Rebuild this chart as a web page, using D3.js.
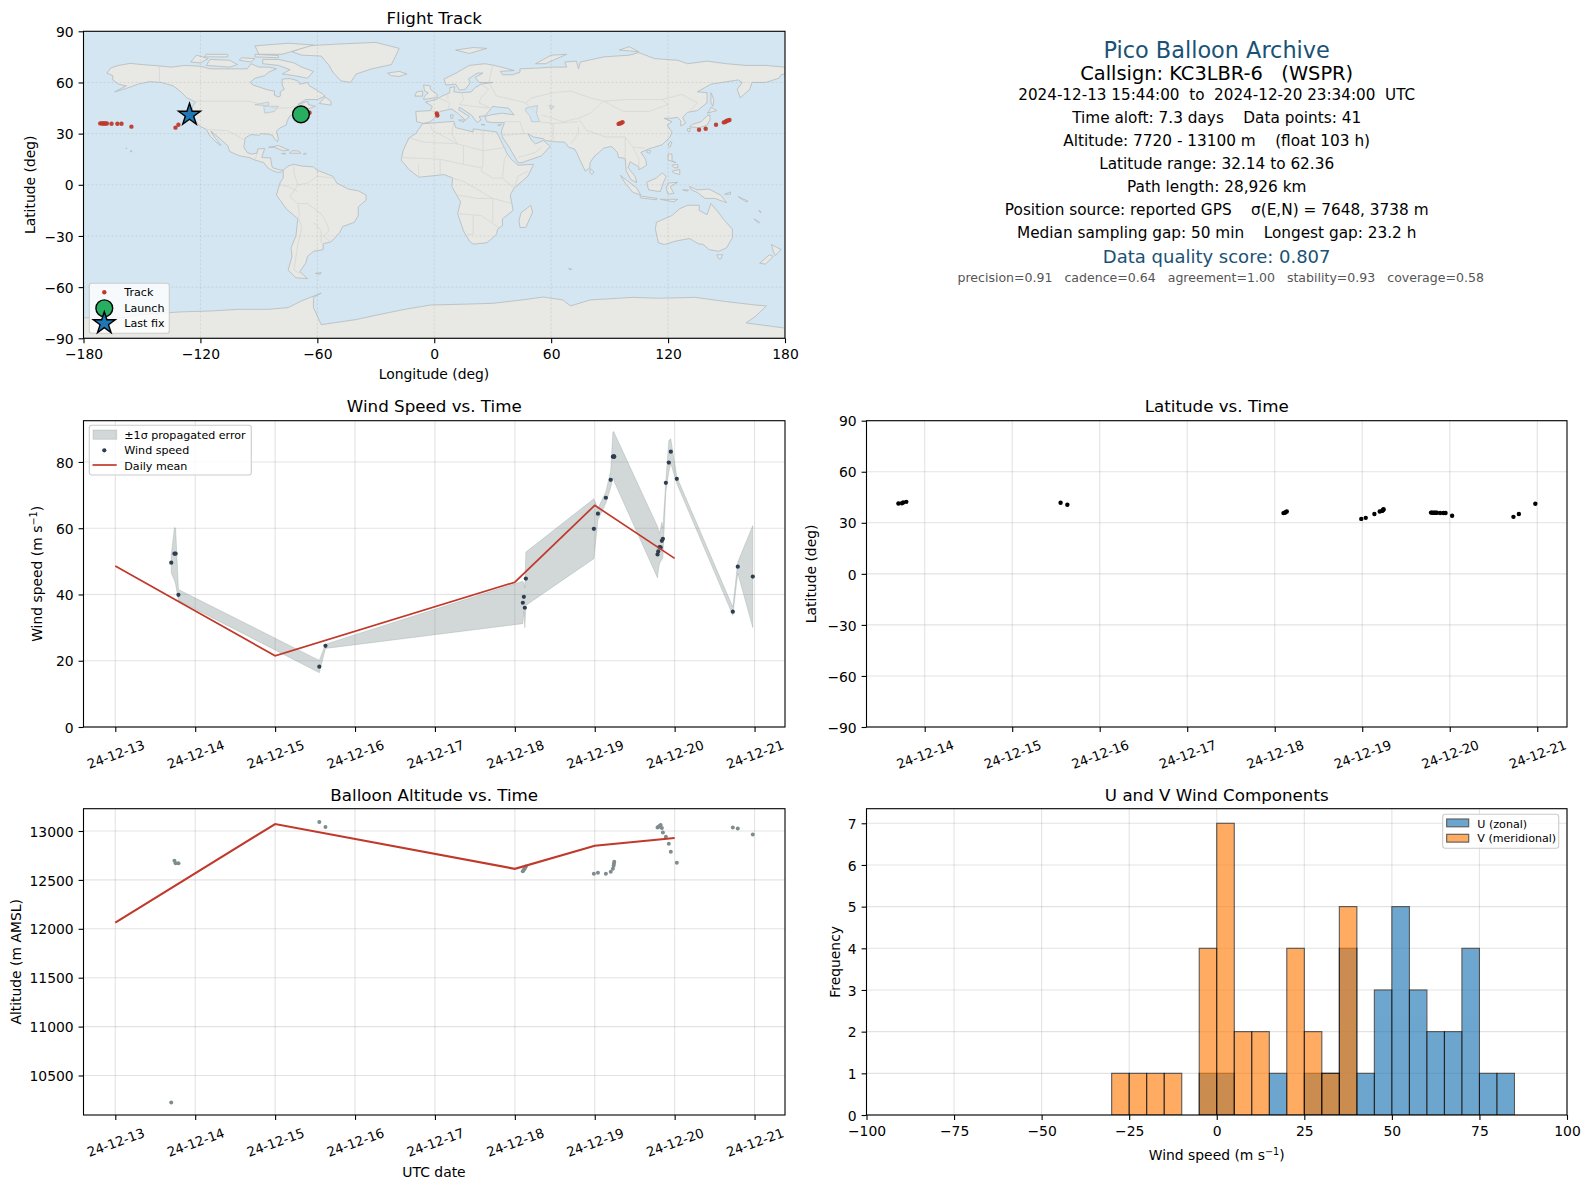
<!DOCTYPE html>
<html>
<head>
<meta charset="utf-8">
<script src="https://cdn.jsdelivr.net/npm/d3@7"></script>
<style>
  body { margin: 0; background: #fff; }
  svg { display: block; }
  text { font-family: "DejaVu Sans", sans-serif; fill: #000; }
</style>
</head>
<body>
<script>
// Flight samples, all arrays line up. Day = day of December 2024 (UTC)
const days = [13.70, 13.74, 13.755, 13.79, 15.553, 15.63, 18.10, 18.113, 18.125, 18.138,
  18.989, 19.04, 19.139, 19.20, 19.227, 19.236, 19.24, 19.244,
  19.786, 19.795, 19.81, 19.825, 19.84, 19.853, 19.89, 19.927, 19.952, 20.027,
  20.728, 20.79, 20.978];
const windSpeed = [49.6, 52.3, 52.3, 39.9, 18.2, 24.5, 37.5, 39.3, 36.0, 44.8,
  59.8, 64.4, 69.2, 74.6, 81.6, 81.6, 81.7, 81.6,
  52.1, 53.0, 54.3, 54.2, 56.2, 56.8, 73.7, 79.8, 83.1, 74.9,
  34.8, 48.4, 45.4];
const windUpper = [52, 60.2, 60, 41.5, 20.1, 25, 44, 43.5, 42, 52.8,
  68.9, 66, 71, 77.4, 89, 89.2, 89, 88.8,
  60.5, 59.5, 58.5, 60, 61.8, 60, 74.5, 86.5, 87, 75.5,
  36.2, 49.8, 60.8];
const windLower = [46.5, 44.3, 43, 38.2, 16.4, 23.7, 31.2, 35, 30, 36.7,
  50.8, 62.5, 67.5, 72.4, 75, 75, 74.5, 74,
  45, 47, 49.3, 50, 50.5, 51.3, 71, 77, 79.5, 73.5,
  33.7, 46.4, 30];
const altitude = [10225, 12695, 12670, 12670, 13091, 13040, 12589, 12603, 12617, 12637,
  12562, 12572, 12562, 12583, 12613, 12644, 12665, 12686,
  13035, 13042, 13050, 13062, 13030, 12984, 12942, 12870, 12788, 12675,
  13035, 13025, 12963];
const latitude = [41.3, 41.5, 42, 42.3, 41.8, 40.6, 35.7, 35.9, 36.2, 36.7,
  32.3, 32.9, 35.2, 36.6, 37, 37.4, 37.7, 38,
  36, 36, 35.9, 35.9, 35.9, 35.9, 35.8, 35.8, 35.8, 34.1,
  33.5, 35.2, 41.2];
const longitude = [-66.5, -65.5, -64.8, -64, 1.3, 1.6, 94.6, 95.2, 95.9, 96.6,
  135.9, 139.3, 144.6, 148.6, 149.5, 150, 150.7, 151.5,
  -171.4, -170.6, -170, -169.4, -168.8, -168, -165.6, -162.6, -160.5, -155.4,
  -132.8, -131.3, -125.6];

// Daily means
const meanDays = [13, 15, 18, 19, 20];
const meanWind = [48.6, 21.5, 43.7, 66.9, 50.9];
const meanAltitude = [12062, 13071, 12613, 12850, 12928];

const launchPoint = [-68.4, 41.3];
const lastPoint = [-125.6, 41.0];

// Histogram counts, bins 5 m/s wide from -100 to 100
const binEdges = d3.range(-100, 100, 5);
const uCounts = [0,0,0,0,0,0,0,0,0,0,0,0,0,0,0,0,0,0,0,1,1,0,0,1,0,1,1,4,1,3,5,3,2,2,4,1,1,0,0,0];
const vCounts = [0,0,0,0,0,0,0,0,0,0,0,0,0,0,1,1,1,1,0,4,7,2,2,0,4,2,1,5,0,0,0,0,0,0,0,0,0,0,0,0];

// Tick values and labels
const dateTicks = [13, 14, 15, 16, 17, 18, 19, 20, 21];
const dateLabels = ["24-12-13", "24-12-14", "24-12-15", "24-12-16", "24-12-17", "24-12-18", "24-12-19", "24-12-20", "24-12-21"];
const lonTicks = [-180, -120, -60, 0, 60, 120, 180];
const latTicks = [-90, -60, -30, 0, 30, 60, 90];
const windTicks = [0, 20, 40, 60, 80];
const altTicks = [10500, 11000, 11500, 12000, 12500, 13000];
const histXTicks = [-100, -75, -50, -25, 0, 25, 50, 75, 100];
const histYTicks = [0, 1, 2, 3, 4, 5, 6, 7];

// Info panel lines
const infoLines = [
  ["Pico Balloon Archive", 22.4, "#1a5276", 50, 0],
  ["Callsign: KC3LBR-6   (WSPR)", 19.4, "#000", 73.3, 0],
  ["2024-12-13 15:44:00  to  2024-12-20 23:34:00  UTC", 15.2, "#000", 94.5, 0],
  ["Time aloft: 7.3 days    Data points: 41", 15.3, "#000", 117.7, 0],
  ["Altitude: 7720 - 13100 m    (float 103 h)", 15.3, "#000", 140.5, 0],
  ["Latitude range: 32.14 to 62.36", 15.3, "#000", 163.5, 0],
  ["Path length: 28,926 km", 15.3, "#000", 186.7, 0],
  ["Position source: reported GPS    σ(E,N) = 7648, 3738 m", 15.3, "#000", 209.5, 0],
  ["Median sampling gap: 50 min    Longest gap: 23.2 h", 15.3, "#000", 232.7, 0],
  ["Data quality score: 0.807", 18, "#1a5276", 256.7, 0],
  ["precision=0.91   cadence=0.64   agreement=1.00   stability=0.93   coverage=0.58", 12.55, "#555", 278, 4]
];

// Rough coastlines, lon/lat
const landPolygons = [
  // North and Central America
  [[-168,65.5],[-166,68.5],[-162,70],[-156,71.2],[-150,70.5],[-141,69.7],[-135,69],[-128,70],[-120,69.5],[-115,68],[-108,68],[-100,68],[-96,68],[-94,71],[-90,69],[-85,69],[-81,68],[-85,66],[-87,64],[-92,62.5],[-94.5,60],[-93,58.5],[-89,57],[-85,55.5],[-82,55],[-82,52.5],[-80,51.5],[-79,52],[-79,54.5],[-77,56],[-78,58.5],[-78,62],[-74,62.3],[-70,61],[-69,59],[-65,60],[-64,58],[-61,56],[-57,53],[-56,52],[-60,50],[-66,50],[-70,47],[-65,49],[-64.5,47],[-61,46],[-66,44],[-70,43.5],[-71,41.5],[-74,40.5],[-75.5,37.5],[-76,35],[-79,33.5],[-81,31.5],[-80,27],[-80.5,25.2],[-82,27],[-83,29],[-85,29.7],[-89,30],[-90,29],[-94,29.5],[-97,27.5],[-97.7,22],[-96,19],[-94,18],[-91,18.5],[-90.5,21],[-87,21.3],[-88,18],[-88.5,16],[-84,15.8],[-83.5,12],[-83,10],[-80,9],[-77.5,8.5],[-78.5,7.5],[-80.5,7.3],[-83,8.3],[-85.5,10],[-87.5,13],[-92,14.5],[-95,16],[-100,17],[-105,19.5],[-106,23],[-109,26],[-112.5,29.5],[-114.7,31.5],[-112.8,28],[-110,24],[-109.5,23],[-112,25],[-115,28.5],[-117,32.5],[-120.5,34.5],[-122.5,37.5],[-124.3,40.5],[-124,46],[-122.5,48.5],[-127,51],[-130,54.5],[-134,58],[-140,60],[-146,60.5],[-152,59],[-158,56.5],[-164,54.5],[-158,58],[-162,59],[-165,61.5],[-165,64]],
  // Greenland
  [[-73,78],[-68,76],[-58,75.5],[-54,70],[-52,66],[-48,61],[-43,60],[-40,65],[-32,68],[-22,70.5],[-20,75],[-18,80],[-30,83.5],[-50,82.5],[-65,81.5]],
  // Arctic Canada
  [[-80,73.5],[-72,71.5],[-68,69],[-62,66.5],[-65,62.5],[-72,64],[-78,65],[-74,67.5],[-80,70],[-88,71],[-88,73.5]],
  [[-117,70],[-105,69],[-101,70.5],[-105,73],[-115,73.5]],
  [[-125,72],[-120,71.5],[-116,74],[-122,76]],
  [[-90,76.5],[-78,76.5],[-62,82],[-75,83],[-92,81.5]],
  [[-92,75],[-80,74.5],[-80,75.8],[-92,76.5]],
  [[-118,75],[-106,75],[-106,76.5],[-117,76.5]],
  [[-100,73],[-94,72],[-92,74],[-99,74.5]],
  [[-59,47.7],[-53,46.7],[-53,49],[-56,51.5]],
  // Caribbean
  [[-85,22],[-80,23],[-74.5,20.3],[-77.5,19.9],[-82,22]],
  [[-74.3,18.5],[-68.5,18.5],[-69.5,19.8],[-73,20]],
  [[-78.3,18.3],[-76.3,18],[-76.5,18.5]],
  [[-67.2,18],[-65.6,18.1],[-66,18.5]],
  // Hawaii
  [[-156,19.2],[-155,19.7],[-155.7,20.2]],
  [[-158.2,21.3],[-157.7,21.3],[-158,21.7]],
  // South America
  [[-77.5,8.5],[-75,11],[-72,12],[-68,11],[-62,10.5],[-60,8.5],[-52,5],[-50,1],[-44,-2.5],[-39,-3.5],[-35,-6],[-35,-9],[-39,-13],[-39,-18],[-41,-22],[-47,-24.5],[-48.5,-28],[-53,-33.5],[-57,-34.5],[-57,-38],[-62,-39],[-65,-42],[-66,-46],[-69,-51],[-65,-55],[-71,-54.5],[-75,-50],[-73,-42],[-73.5,-37],[-71,-30],[-70,-20],[-76,-14],[-81,-6],[-80,-2],[-79,1.5],[-77.5,4]],
  [[-61,-52],[-58,-51.5],[-58.5,-52.5]],
  // Eurasia
  [[-9,37],[-9.5,43],[-2,43.5],[-1,46],[-4.5,48.5],[1,50],[4,52],[8,54],[8,57],[10.5,57.5],[10,54.5],[14,54],[19,54.5],[21,57],[24,59],[30,60],[23,60],[21,63],[25,65.5],[22,65.5],[17.5,62],[18.5,60],[16,56],[13,55.5],[11,59],[6,58.5],[5,62],[12,66],[18,70],[26,71],[31,70],[41,67],[34,66.5],[35,64.5],[40,64.5],[44,66],[44,68],[54,68.5],[60,69],[68,69],[67,72],[73,72.5],[74,68],[75,72],[81,73.5],[87,75],[100,76],[105,77.5],[113,74],[125,73],[130,71],[140,72.5],[150,71],[160,70],[170,70],[180,69],[180,65],[178,64.5],[177,62.5],[170,60],[163,60],[162,56],[157,51],[155.5,56],[158,60],[156,61.5],[142,59],[135,54.5],[140,54],[140,48],[135,43.5],[130,42.5],[127.5,39.5],[129,36],[126.5,34.5],[126.5,37.5],[125,39.5],[121,39],[118,39],[122,37],[119.5,35],[122,31],[121,28],[117,23.5],[110,21],[106,19],[108.5,15],[109,11.5],[105,8.7],[105,10.5],[100.5,13.5],[99.5,10],[103,5],[104,1.3],[101,3],[98.5,8],[98,15.5],[94.5,16],[94,19],[91,22.5],[87,21.5],[82,16.5],[80,13],[79.8,10],[77.5,8],[73,19],[72,21],[69,22],[67,25],[61,25.3],[57,26],[56,27],[51,28],[48,30],[50,26],[52,24],[56,26],[59.5,22.5],[55,17],[45,13],[43,13],[39,21],[35,28],[34.5,31.5],[36,36.5],[30,36.5],[27,37],[26,40],[29,41],[35,42],[41,41],[38,45],[33,45.5],[30,46],[28,43],[26,40.5],[23,40],[24,38],[22,36.5],[19,41],[13,45.5],[12.5,44],[18,40],[16,38],[12,42],[9,44.5],[3,43],[0,39],[-2,37],[-5.5,36]],
  // Africa
  [[-6,35.8],[10,37.2],[11,33.5],[20,31],[20,32.8],[25,32],[32,31],[32.5,30],[35,24],[37.5,18],[39.5,15],[43,11.5],[51,12],[48,5],[41,-2],[39,-6],[40.5,-15],[35,-20],[35,-24],[32.5,-26],[32,-29],[27,-34],[20,-34.8],[18,-33],[15,-27],[12,-17],[13.5,-10],[9,-1],[9.5,4],[5,6],[-3,5],[-8,4.5],[-13,9],[-17,14.5],[-16,20],[-13,27.5],[-9.5,30]],
  [[49.5,-12],[50.5,-16],[47,-25],[44,-25],[43.5,-21],[44.5,-16.5]],
  // Europe islands
  [[-5.5,50],[1.5,51.2],[1.5,53],[-2,56],[-2,58],[-5.5,58.5],[-5,55],[-3,54],[-5,52]],
  [[-10,52],[-6,52],[-6,55],[-9,54.5]],
  [[-24,65.5],[-18,66.5],[-14,65],[-18,63.5],[-22,64]],
  [[11,79],[20,80.5],[27,80],[18,77]],
  [[52,71],[57,71],[68,76.5],[60,76]],
  [[95,79],[105,78],[100,81]],
  [[12.5,38],[15.5,38],[15,36.7]],
  [[8.3,41],[9.7,41],[9.5,39],[8.5,39]],
  [[24,35.4],[26,35.2],[25,35]],
  [[32.5,35],[34.5,35.5],[33.5,34.7]],
  // Asia islands
  [[80,9.5],[82,7.5],[81,6],[80,7]],
  [[142,54],[143.5,50],[143,46],[142,48]],
  [[131,34],[136,33.5],[140,35],[141.5,38],[141.5,41],[140,40.5],[137,37],[132.5,35.5]],
  [[140,42],[145,43.5],[142,45.5],[141,43]],
  [[130,33],[131.5,33],[131,31],[130,31.5]],
  [[120,23],[121,22],[122,25],[121,25.3]],
  [[108.7,19.5],[110.5,18.3],[111,20],[110,20.2]],
  [[120,18],[122,18],[122,14],[124,13],[120,14.5]],
  [[122,8],[126,9],[126,6],[123,7]],
  [[122,11.5],[125,12],[125,10],[123,10]],
  [[95.5,5.5],[104,-2],[106,-6],[102,-4.5],[98,1]],
  [[105.5,-6.5],[114.5,-8],[114,-8.8],[106,-7.7]],
  [[109,1.5],[114,4],[117,7],[119,5],[117.5,1],[116,-4],[110,-3]],
  [[120,1],[125,1.5],[121,-1],[123,-5],[120,-5.5],[119,-2]],
  [[116,-8.5],[125,-8.5],[123,-10],[118,-9]],
  [[127.5,-3],[130.5,-3],[130,-3.7]],
  // Oceania
  [[131,-1],[135,-3],[141,-2.5],[147,-6],[150,-10.5],[144,-8],[139,-8],[135,-4.5],[132,-3]],
  [[149,-5.5],[152,-4.2],[152,-5.6]],
  [[156,-7],[161,-9.5],[160,-10]],
  [[166.5,-15],[167.5,-15.5],[167.5,-16.5]],
  [[164,-20],[167,-22],[166.5,-22.4]],
  [[114,-22],[122,-18],[126,-14],[130,-12],[136,-12],[136,-15],[140,-17.5],[142,-11],[145,-15],[149,-21],[153,-26],[153,-31],[150,-37],[146,-39],[141,-38],[138,-35],[135.5,-34.5],[131,-31.5],[124,-33],[118,-35],[115,-34],[113.5,-26]],
  [[145,-41],[148,-41],[147,-43.5],[146,-43.5]],
  [[173,-35],[178,-38],[175,-41.5],[174,-39]],
  [[172,-41],[174,-42],[170,-46.5],[167,-46]],
  [[69,-49],[70.5,-49.5],[69.5,-49.8]],
  // Antarctica
  [[-180,-90],[-180,-78],[-160,-78],[-150,-76],[-130,-74.5],[-115,-74],[-100,-73],[-85,-73],[-75,-72],[-68,-68],[-58,-63.5],[-62,-66],[-62,-72],[-60,-77],[-58,-82],[-40,-79],[-28,-76],[-15,-73],[-2,-70.5],[15,-70],[30,-69.5],[45,-67.5],[56,-65.8],[66,-67.5],[70,-71],[80,-67.5],[102,-66],[115,-66.5],[134,-66],[150,-68.5],[165,-70.5],[170.5,-71],[165,-77],[160,-81],[180,-84],[180,-90]]
];

const lakePolygons = [
  [[47,45],[53,46.5],[52.5,42],[54,37],[50,37],[49,40.5],[47,43]],
  [[-92,47],[-85,48.5],[-85,46.5],[-88,46.5]],
  [[-87.5,46],[-80,46],[-82,43],[-87,42]],
  [[59,46.5],[61.5,46],[60,44]]
];

const borderLines = [
  [[-123,49],[-95,49],[-82,45],[-75,45],[-67,47]],
  [[-141,60],[-141,69.7]],
  [[-117,32.5],[-106,31.7],[-97,26]],
  [[-92,14.5],[-91,18]],
  [[-52,4],[-60,5],[-65,1],[-70,0],[-74,-7],[-70,-11],[-65,-11],[-58,-17],[-55,-23],[-54,-27],[-57,-30],[-53,-33.5]],
  [[-70,-18],[-68,-25],[-70,-35],[-72,-50],[-69,-52]],
  [[-70,0],[-72,7],[-72,11]],
  [[-60,8],[-60,5]],
  [[-79,0],[-75,-1],[-70,-4]],
  [[-70,-11],[-69,-18]],
  [[-62,-22],[-58,-27],[-58,-34]],
  [[-2,43.5],[3,42.5]],
  [[2,51],[8,48],[7,44]],
  [[14,54],[15,50],[13,47],[20,46],[28,45]],
  [[7,53],[7,50]],
  [[24,59],[28,56],[24,51],[23,48],[29,45]],
  [[28,60],[30,70]],
  [[28,60],[32,52],[40,50],[47,48],[50,51],[61,54],[70,55],[80,51],[87,49],[98,50],[108,50],[117,50],[127,53],[135,48],[131,43]],
  [[74,39],[80,42],[87,49]],
  [[87,49],[97,43],[110,43],[120,47],[117,50]],
  [[74,39],[78,32],[88,28],[98,28],[102,22],[108,21.5]],
  [[74,34],[74,30],[70,24]],
  [[61,25.3],[61,36],[54,37]],
  [[61,36],[74,37]],
  [[47,48],[52,42]],
  [[55,41],[66,37],[74,39]],
  [[44,37],[46,30],[48,30]],
  [[36,37],[44,37]],
  [[35,29],[46,30]],
  [[43,16],[52,19],[55,22]],
  [[98,28],[98,16]],
  [[102,22],[105,15],[105,10.5]],
  [[-13,27.5],[-5,25],[12,24],[25,20],[37,22]],
  [[25,32],[25,12],[24,8],[30,4],[35,4],[41,-2]],
  [[-17,16],[3,15],[15,12],[24,10]],
  [[9,4],[15,2],[30,-8],[40,-11]],
  [[12,-17],[24,-18],[33,-25]],
  [[-2,35],[-1,32],[12,24]],
  [[10,37],[9,30],[12,24]],
  [[3,15],[3,6]],
  [[-8,4.5],[-8,12]],
  [[15,12],[15,23]],
  [[35,4],[36,15],[37.5,18]],
  [[30,-8],[30,-22]],
  [[20,-18],[20,-29],[17,-29]],
  [[12,-6],[22,-8],[30,-8]],
  [[48,8],[43,5],[41,-2]]
];

const W = 1590, H = 1189;

const svg = d3.select("body").append("svg").attr("width", W).attr("height", H);

// Axes boxes
const col1 = [83.5, 785], col2 = [866.5, 1567];
const row1 = [31.3, 338.3], row2 = [420.7, 727], row3 = [808.7, 1115];

function gridAndFrame(x, y, xt, yt, xr, yr) {
  const g = svg.append("g");
  g.selectAll(".gx").data(xt).enter().append("line")
    .attr("x1", d => x(d)).attr("x2", d => x(d)).attr("y1", yr[0]).attr("y2", yr[1])
    .attr("stroke", "#b0b0b0").attr("stroke-opacity", 0.35).attr("stroke-width", 1.1);
  g.selectAll(".gy").data(yt).enter().append("line")
    .attr("y1", d => y(d)).attr("y2", d => y(d)).attr("x1", xr[0]).attr("x2", xr[1])
    .attr("stroke", "#b0b0b0").attr("stroke-opacity", 0.35).attr("stroke-width", 1.1);
  return g;
}

function frame(xr, yr) {
  svg.append("rect")
    .attr("x", xr[0]).attr("y", yr[0])
    .attr("width", xr[1] - xr[0]).attr("height", yr[1] - yr[0])
    .attr("fill", "none").attr("stroke", "#000").attr("stroke-width", 1.1);
}

function drawAxes(x, y, xt, yt, xr, yr, xfmt, rotated) {
  const ax = svg.append("g").attr("transform", `translate(0,${yr[1]})`)
    .call(d3.axisBottom(x).tickValues(xt).tickFormat(xfmt).tickSize(4.9).tickPadding(5.9));
  const ay = svg.append("g").attr("transform", `translate(${xr[0]},0)`)
    .call(d3.axisLeft(y).tickValues(yt).tickFormat(d => String(d).replace("-", "\u2212")).tickSize(4.9).tickPadding(4.9));
  [ax, ay].forEach(a => {
    a.select(".domain").remove();
    a.selectAll("line").attr("stroke", "#000").attr("stroke-width", 1.1);
    a.selectAll("text").style("font-family", '"DejaVu Sans", sans-serif').style("font-size", "13.9px").attr("fill", "#000");
  });
  ay.selectAll("text").attr("dy", "0.37em");
  if (rotated) {
    ax.selectAll("text")
      .attr("y", 0).attr("dy", "0.35em")
      .attr("transform", `translate(0,27.5) rotate(-20)`)
      .attr("text-anchor", "middle")
      .style("font-size", "13.2px");
  }
  frame(xr, yr);
}

function title(text, xr, y) {
  svg.append("text").text(text).attr("x", (xr[0] + xr[1]) / 2).attr("y", y)
    .attr("text-anchor", "middle").attr("font-size", 16.7);
}

// label with optional m s^-1 unit
function label(text, x, y, vertical, unit) {
  const t = svg.append("text").attr("text-anchor", "middle").attr("font-size", 13.9)
    .attr("transform", `translate(${x},${y})` + (vertical ? " rotate(-90)" : ""));
  t.append("tspan").text(text);
  if (unit) {
    t.append("tspan").text("m s");
    t.append("tspan").text("\u22121").attr("font-size", 9.7).attr("dy", -5);
    t.append("tspan").text(")").attr("dy", 5);
  }
}

function legendBox(x, y, w, h) {
  svg.append("rect").attr("x", x).attr("y", y).attr("width", w).attr("height", h).attr("rx", 2.5)
    .attr("fill", "#fff").attr("fill-opacity", 0.8).attr("stroke", "#ccc").attr("stroke-width", 1.1);
}

function legendText(text, x, y) {
  svg.append("text").text(text).attr("x", x).attr("y", y).attr("dy", "0.35em").attr("font-size", 11.1);
}

const defs = svg.append("defs");
function clip(id, xr, yr) {
  defs.append("clipPath").attr("id", id).append("rect")
    .attr("x", xr[0]).attr("y", yr[0]).attr("width", xr[1] - xr[0]).attr("height", yr[1] - yr[0]);
}
clip("clipMap", col1, row1);
clip("clipWind", col1, row2);
clip("clipAlt", col1, row3);
clip("clipLat", col2, row2);
clip("clipHist", col2, row3);

const fmtDate = d => dateLabels[dateTicks.indexOf(d)];

// ---- Flight track map ----
const lonX = d3.scaleLinear().domain([-180, 180]).range(col1);
const latY = d3.scaleLinear().domain([-90, 90]).range([row1[1], row1[0]]);
const geoLine = d3.line().x(d => lonX(d[0])).y(d => latY(d[1]));

const mapG = svg.append("g").attr("clip-path", "url(#clipMap)");
mapG.append("rect").attr("x", col1[0]).attr("y", row1[0])
  .attr("width", col1[1] - col1[0]).attr("height", row1[1] - row1[0]).attr("fill", "#d4e6f1");
mapG.selectAll(".land").data(landPolygons).enter().append("path")
  .attr("d", d => geoLine(d) + "Z")
  .attr("fill", "#e8e8e4").attr("stroke", "#b4babc").attr("stroke-width", 0.8).attr("stroke-linejoin", "round");
mapG.selectAll(".lake").data(lakePolygons).enter().append("path")
  .attr("d", d => geoLine(d) + "Z")
  .attr("fill", "#d4e6f1").attr("stroke", "#b4babc").attr("stroke-width", 0.6);
mapG.selectAll(".border").data(borderLines).enter().append("path")
  .attr("d", geoLine).attr("fill", "none")
  .attr("stroke", "#d6d8d6").attr("stroke-width", 0.8);
mapG.selectAll(".mgx").data(lonTicks).enter().append("line")
  .attr("x1", d => lonX(d)).attr("x2", d => lonX(d)).attr("y1", row1[0]).attr("y2", row1[1])
  .attr("stroke", "#999").attr("stroke-opacity", 0.35).attr("stroke-width", 0.7).attr("stroke-dasharray", "2,2");
mapG.selectAll(".mgy").data(latTicks).enter().append("line")
  .attr("y1", d => latY(d)).attr("y2", d => latY(d)).attr("x1", col1[0]).attr("x2", col1[1])
  .attr("stroke", "#999").attr("stroke-opacity", 0.35).attr("stroke-width", 0.7).attr("stroke-dasharray", "2,2");
mapG.selectAll(".track").data(days).enter().append("circle")
  .attr("cx", (d, i) => lonX(longitude[i])).attr("cy", (d, i) => latY(latitude[i]))
  .attr("r", 2.2).attr("fill", "#c0392b").attr("fill-opacity", 0.95);

const starPath = d3.symbol().type(d3.symbolStar).size(150)();
function launchMark(x, y) {
  svg.append("circle").attr("cx", x).attr("cy", y).attr("r", 8.4)
    .attr("fill", "#27ae60").attr("stroke", "#000").attr("stroke-width", 1.4);
}
function starMark(x, y) {
  svg.append("path").attr("d", starPath).attr("transform", `translate(${x},${y})`)
    .attr("fill", "#1f77b4").attr("stroke", "#000").attr("stroke-width", 1.4);
}
launchMark(lonX(launchPoint[0]), latY(launchPoint[1]));
starMark(lonX(lastPoint[0]), latY(lastPoint[1]));

drawAxes(lonX, latY, lonTicks, latTicks, col1, row1, d => String(d).replace("-", "\u2212"));
title("Flight Track", col1, 24);
label("Longitude (deg)", 434, 379);
label("Latitude (deg)", 35, (row1[0] + row1[1]) / 2, true);

legendBox(89.3, 283.3, 80, 50);
svg.append("circle").attr("cx", 104.3).attr("cy", 292.3).attr("r", 2.2).attr("fill", "#c0392b");
launchMark(104.3, 308.3);
starMark(104.3, 323.3);
legendText("Track", 124.3, 292.3);
legendText("Launch", 124.3, 308.3);
legendText("Last fix", 124.3, 323.3);

// ---- Info panel ----
svg.append("g").selectAll("text").data(infoLines).enter().append("text")
  .text(d => d[0])
  .attr("x", d => 1216.7 + d[4]).attr("y", d => d[3]).attr("dy", "0.35em")
  .attr("text-anchor", "middle").style("white-space", "pre")
  .attr("font-size", d => d[1]).style("fill", d => d[2]);

// ---- Wind speed ----
const dayX = d3.scaleLinear().domain([12.602, 21.381]).range(col1);
const windY = d3.scaleLinear().domain([0, 92.45]).range([row2[1], row2[0]]);
gridAndFrame(dayX, windY, dateTicks, windTicks, col1, row2);
const windG = svg.append("g").attr("clip-path", "url(#clipWind)");
windG.append("path")
  .attr("d", d3.area().x(d => dayX(d)).y0((d, i) => windY(windLower[i])).y1((d, i) => windY(windUpper[i]))(days))
  .attr("fill", "#7f8c8d").attr("fill-opacity", 0.35)
  .attr("stroke", "#7f8c8d").attr("stroke-opacity", 0.25).attr("stroke-width", 1);
windG.selectAll(".pt").data(days).enter().append("circle")
  .attr("cx", d => dayX(d)).attr("cy", (d, i) => windY(windSpeed[i]))
  .attr("r", 2.1).attr("fill", "#2c3e50");
windG.append("path")
  .attr("d", d3.line().x(d => dayX(d)).y((d, i) => windY(meanWind[i]))(meanDays))
  .attr("fill", "none").attr("stroke", "#c0392b").attr("stroke-width", 1.7);
drawAxes(dayX, windY, dateTicks, windTicks, col1, row2, fmtDate, true);
title("Wind Speed vs. Time", col1, 412);
label("Wind speed (", 42, (row2[0] + row2[1]) / 2, true, true);

legendBox(89.3, 425.3, 162, 49.7);
svg.append("rect").attr("x", 93).attr("y", 430).attr("width", 23.7).attr("height", 9.3)
  .attr("fill", "#7f8c8d").attr("fill-opacity", 0.35).attr("stroke", "#7f8c8d").attr("stroke-opacity", 0.25);
svg.append("circle").attr("cx", 104.3).attr("cy", 450.3).attr("r", 2.1).attr("fill", "#2c3e50");
svg.append("line").attr("x1", 92.5).attr("x2", 116.7).attr("y1", 465).attr("y2", 465)
  .attr("stroke", "#c0392b").attr("stroke-width", 1.7);
legendText("\u00b11\u03c3 propagated error", 124.3, 435.3);
legendText("Wind speed", 124.3, 450.3);
legendText("Daily mean", 124.3, 466);

// ---- Latitude ----
const dayX2 = d3.scaleLinear().domain([13.335, 21.34]).range(col2);
const latY2 = d3.scaleLinear().domain([-90, 90]).range([row2[1], row2[0]]);
gridAndFrame(dayX2, latY2, dateTicks.slice(1), latTicks, col2, row2);
svg.append("g").attr("clip-path", "url(#clipLat)")
  .selectAll("circle").data(days).enter().append("circle")
  .attr("cx", d => dayX2(d)).attr("cy", (d, i) => latY2(latitude[i]))
  .attr("r", 2.2).attr("fill", "#000");
drawAxes(dayX2, latY2, dateTicks.slice(1), latTicks, col2, row2, fmtDate, true);
title("Latitude vs. Time", col2, 412);
label("Latitude (deg)", 816, (row2[0] + row2[1]) / 2, true);

// ---- Altitude ----
const altY = d3.scaleLinear().domain([10096, 13228]).range([row3[1], row3[0]]);
gridAndFrame(dayX, altY, dateTicks, altTicks, col1, row3);
const altG = svg.append("g").attr("clip-path", "url(#clipAlt)");
altG.selectAll("circle").data(days).enter().append("circle")
  .attr("cx", d => dayX(d)).attr("cy", (d, i) => altY(altitude[i]))
  .attr("r", 2).attr("fill", "#7f8c8d");
altG.append("path")
  .attr("d", d3.line().x(d => dayX(d)).y((d, i) => altY(meanAltitude[i]))(meanDays))
  .attr("fill", "none").attr("stroke", "#c0392b").attr("stroke-width", 2.1);
drawAxes(dayX, altY, dateTicks, altTicks, col1, row3, fmtDate, true);
title("Balloon Altitude vs. Time", col1, 801);
label("Altitude (m AMSL)", 21, (row3[0] + row3[1]) / 2, true);
label("UTC date", 434, 1177);

// ---- U / V histogram ----
const windX = d3.scaleLinear().domain([-100, 100]).range(col2);
const countY = d3.scaleLinear().domain([0, 7.35]).range([row3[1], row3[0]]);
gridAndFrame(windX, countY, histXTicks, histYTicks, col2, row3);
function bars(counts, color) {
  svg.append("g").attr("clip-path", "url(#clipHist)")
    .selectAll("rect").data(counts).enter().append("rect")
    .attr("x", (d, i) => windX(binEdges[i]))
    .attr("width", (d, i) => windX(binEdges[i] + 5) - windX(binEdges[i]))
    .attr("y", d => countY(d))
    .attr("height", d => countY(0) - countY(d))
    .attr("fill", color).attr("opacity", 0.65)
    .attr("stroke", "#000").attr("stroke-width", 1.1);
}
bars(uCounts, "#1f77b4");
bars(vCounts, "#ff7f0e");
drawAxes(windX, countY, histXTicks, histYTicks, col2, row3, d => String(d).replace("-", "\u2212"));
title("U and V Wind Components", col2, 801);
label("Wind speed (", 1216.7, 1160, false, true);
label("Frequency", 840, (row3[0] + row3[1]) / 2, true);

legendBox(1442.7, 814.3, 116, 34);
[["#1f77b4", "U (zonal)", 819, 824], ["#ff7f0e", "V (meridional)", 834.3, 838.5]].forEach(r => {
  svg.append("rect").attr("x", 1446.7).attr("y", r[2]).attr("width", 22).attr("height", 7.8)
    .attr("fill", r[0]).attr("opacity", 0.65).attr("stroke", "#000").attr("stroke-width", 1.1);
  legendText(r[1], 1477.3, r[3]);
});
</script>
</body>
</html>
